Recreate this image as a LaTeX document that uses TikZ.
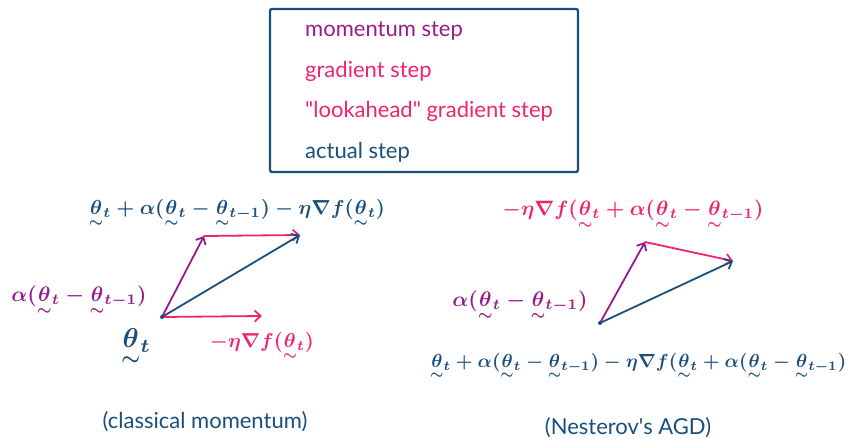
\documentclass[tikz,border=0pt]{standalone}
\usepackage{amsmath}
\usepackage{graphicx}
\usepackage{fontspec}
\setmainfont{Lato}[Ligatures=TeXOff]
\usetikzlibrary{arrows.meta}
\definecolor{mblue}{HTML}{1A4F7C}
\definecolor{mpurple}{HTML}{9A1A8C}
\definecolor{mpink}{HTML}{F0246E}
\newcommand{\vth}[1]{\smash[b]{\underset{\sim}{\theta}}_{#1}}
\newcommand{\tdp}{\vphantom{\underset{\sim}{\theta}}}
\newcommand{\fml}[2]{\resizebox{#1}{!}{\boldmath$\tdp#2$}}
\begin{document}
\begin{tikzpicture}[x=1pt,y=-1pt,
  legtxt/.style={anchor=west,inner sep=0pt,font=\fontsize{22}{26}\selectfont},
  captxt/.style={inner sep=0pt,font=\fontsize{22}{26}\selectfont,text=mblue},
  mlbl/.style={inner sep=0pt},
  vec/.style={line width=1.8pt,line cap=round,-{Straight Barb[length=6pt,width=11pt,line width=1.8pt]}},
  frame/.style={draw=mblue,line width=2.4pt,rounded corners=2pt}]
\useasboundingbox (0,0) rectangle (848,443);
% legend
\draw[frame] (270,9) rectangle (578,172);
\node[legtxt,text=mpurple] (leg1) at (305,31) {momentum step};
\node[legtxt,text=mpink] (leg2) at (305,71) {gradient step};
\node[legtxt,text=mpink] (leg3) at (305,111) {"lookahead" gradient step};
\node[legtxt,text=mblue] (leg4) at (305,152) {actual step};
% left diagram
\coordinate (A0) at (162,317);
\coordinate (A1) at (204,236);
\coordinate (A2) at (300,235);
\coordinate (A3) at (262,316);
\draw[vec,draw=mpurple] (A0) -- (A1);
\draw[vec,draw=mpink] (A1) -- (A2);
\draw[vec,draw=mblue] (A0) -- (A2);
\draw[vec,draw=mpink] (A0) -- (A3);
\fill[mblue] (A0) circle (2pt);
\node[mlbl,text=mblue] (L1) at (237,214) {\fml{296pt}{\vth{t}+\alpha(\vth{t}-\vth{t-1})-\eta\nabla f(\vth{t})}};
\node[mlbl,text=mpurple] (L2) at (79,301) {\fml{135pt}{\alpha(\vth{t}-\vth{t-1})}};
\node[mlbl,text=mblue] (L3) at (136,348) {\fml{30pt}{\vth{t}}};
\node[mlbl,text=mpink] (L4) at (262,347) {\fml{104pt}{{-}\eta\nabla f(\vth{t})}};
\node[captxt] (C1) at (205,422) {(classical momentum)};
% right diagram
\coordinate (B0) at (600,323);
\coordinate (B1) at (645,242);
\coordinate (B2) at (733,261);
\draw[vec,draw=mpurple] (B0) -- (B1);
\draw[vec,draw=mpink] (B1) -- (B2);
\draw[vec,draw=mblue] (B0) -- (B2);
\fill[mblue] (B0) circle (2pt);
\node[mlbl,text=mpink] (R1) at (633,215) {\fml{261pt}{{-}\eta\nabla f(\vth{t}+\alpha(\vth{t}-\vth{t-1})}};
\node[mlbl,text=mpurple] (R2) at (520,306) {\fml{135pt}{\alpha(\vth{t}-\vth{t-1})}};
\node[mlbl,text=mblue,anchor=west] (R3) at (430,367) {\fml{416pt}{\vth{t}+\alpha(\vth{t}-\vth{t-1})-\eta\nabla f(\vth{t}+\alpha(\vth{t}-\vth{t-1})}};
\node[captxt] (C2) at (628,428) {(Nesterov's AGD)};
\end{tikzpicture}
\end{document}
